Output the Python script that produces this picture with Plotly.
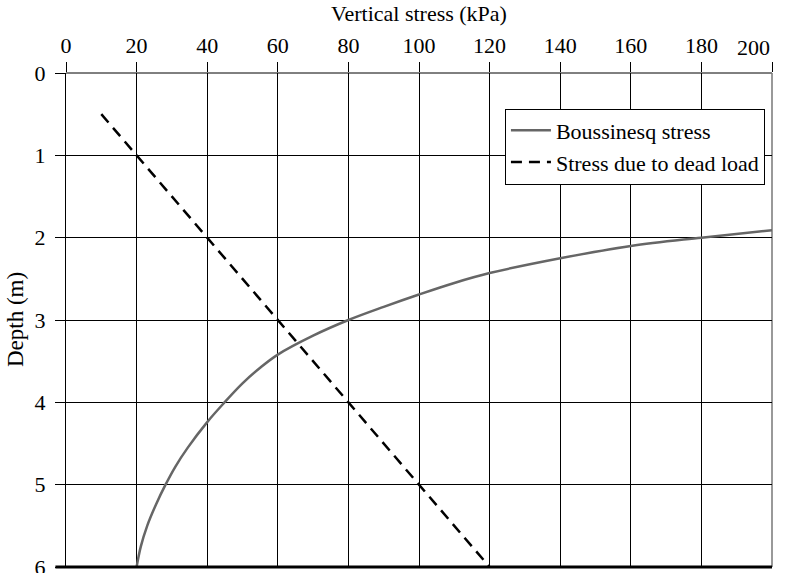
import plotly.graph_objects as go

# Boussinesq stress curve
bous_stress = [20, 21.2, 23, 25.5, 28.2, 31, 34.5, 40, 44.5, 50, 55, 60, 70, 80, 90, 100, 110, 120, 140, 160, 180, 200]
bous_depth = [6.0, 5.75, 5.5, 5.24, 5.0, 4.78, 4.55, 4.24, 4.02, 3.77, 3.58, 3.42, 3.19, 3.0, 2.84, 2.69, 2.55, 2.43, 2.25, 2.10, 2.0, 1.91]

# Stress due to dead load
dead_stress = [10, 120]
dead_depth = [0.5, 6.0]

x_ticks = [0, 20, 40, 60, 80, 100, 120, 140, 160, 180, 200]
x_labels = ["0", "20", "40", "60", "80", "100", "120", "140", "160", "180", ""]
y_ticks = [0, 1, 2, 3, 4, 5, 6]

FONT = "Liberation Serif"

fig = go.Figure()
fig.add_trace(go.Scatter(
    x=bous_stress, y=bous_depth, mode="lines", name="Boussinesq stress",
    line=dict(color="#666666", width=2.5, shape="spline", smoothing=1.0)))
fig.add_trace(go.Scatter(
    x=dead_stress, y=dead_depth, mode="lines", name="Stress due to dead load",
    line=dict(color="black", width=2.5, dash="11px,7px")))

fig.update_layout(
    width=787, height=573,
    margin=dict(l=66, r=15, t=73, b=6),
    paper_bgcolor="white", plot_bgcolor="white",
    font=dict(family=FONT, size=22, color="black"),
    showlegend=True,
    legend=dict(x=0.99, y=0.928, xanchor="right", yanchor="top",
                bgcolor="white", bordercolor="black", borderwidth=1,
                font=dict(family=FONT, size=22), tracegroupgap=0,
                itemwidth=40),
    xaxis=dict(
        side="top", range=[0, 200], tickvals=x_ticks, ticktext=x_labels,
        showgrid=True, gridcolor="black", gridwidth=1,
        ticks="outside", ticklen=10, tickcolor="black", tickwidth=1,
        showline=False, zeroline=False, automargin=False,
        ticklabeloverflow="allow", ticklabelstandoff=0,
        tickfont=dict(family=FONT, size=22)),
    yaxis=dict(
        range=[6, 0], tickvals=y_ticks,
        showgrid=True, gridcolor="black", gridwidth=1,
        ticks="outside", ticklen=10, tickcolor="black", tickwidth=1,
        showline=True, linecolor="black", linewidth=1, zeroline=False,
        automargin=False, ticklabeloverflow="allow", ticklabelstandoff=5,
        tickfont=dict(family=FONT, size=22)),
)

# axis titles
fig.add_annotation(x=0.5, xref="paper", y=1, yref="paper",
                   text="Vertical stress (kPa)", showarrow=False,
                   xanchor="center", yanchor="middle", yshift=60,
                   font=dict(family=FONT, size=22, color="black"))
fig.add_annotation(x=0, xref="paper", y=0.5, yref="paper",
                   text="Depth (m)", showarrow=False, textangle=-90,
                   xanchor="center", yanchor="middle", xshift=-51,
                   font=dict(family=FONT, size=23, color="black"))

# last x tick label is right-aligned at its tick so it stays inside the page
fig.add_annotation(x=x_ticks[-1], xref="x", y=1, yref="paper",
                   text=str(x_ticks[-1]), showarrow=False,
                   xanchor="right", yanchor="bottom", yshift=11,
                   font=dict(family=FONT, size=22, color="black"))

# frame edges: thin top, thick bottom, grey right
fig.add_shape(type="line", xref="paper", yref="paper", x0=0, x1=1, y0=1, y1=1,
              line=dict(color="black", width=1), layer="below")
fig.add_shape(type="line", xref="paper", yref="paper", x0=-0.015, x1=1, y0=0, y1=0,
              line=dict(color="black", width=3), layer="above")
fig.add_shape(type="line", xref="paper", yref="paper", x0=1, x1=1, y0=0, y1=1,
              line=dict(color="#777777", width=1.5), layer="below")

fig.write_html("out.html", config={"displayModeBar": False},
               post_script="document.body.style.margin='0';document.body.style.overflow='hidden';")
